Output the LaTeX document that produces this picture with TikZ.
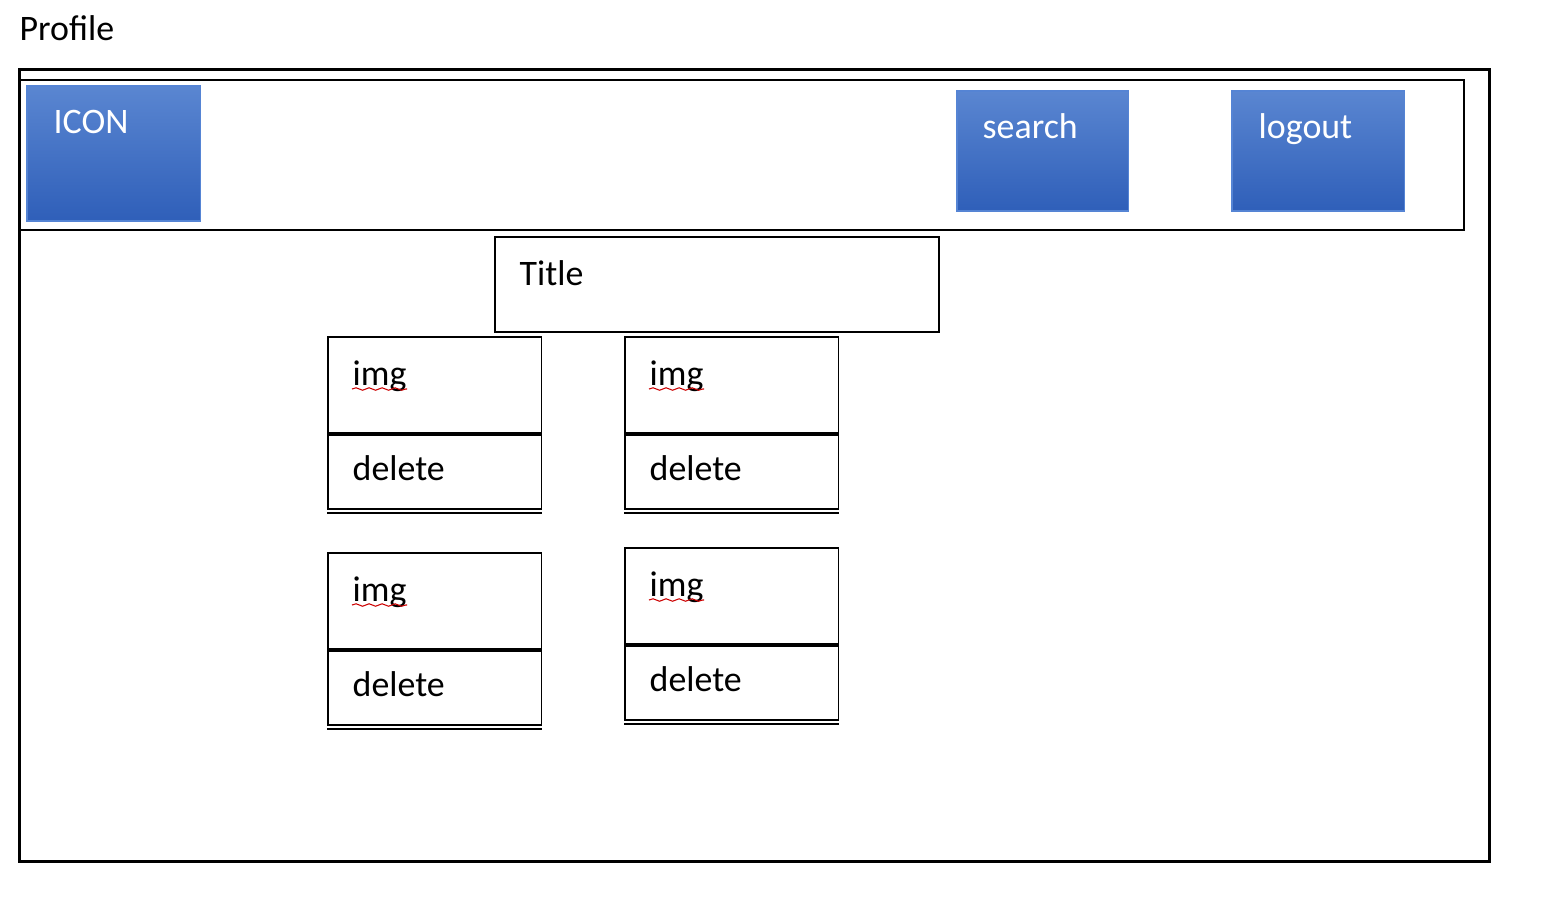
\documentclass[tikz,border=0pt]{standalone}
\usepackage{fontspec}
\setmainfont{Carlito}
\usepackage{xcolor}
\usetikzlibrary{calc,decorations.pathmorphing}

\definecolor{btntop}{HTML}{5A86D1}
\definecolor{btnbot}{HTML}{2F5FB9}
\definecolor{btnedge}{HTML}{5584D4}

\tikzset{
  frame/.style={draw, line width=0.85pt, anchor=north west, inner sep=0pt},
  bar/.style={draw, line width=0.55pt, anchor=north west, inner sep=0pt},
  btn/.style={draw=btnedge, top color=btntop, bottom color=btnbot, line width=0.5pt, anchor=north west, inner sep=0pt},
  cell/.style={draw, line width=0.5pt, anchor=north west, inner sep=0pt, minimum width=2.135cm},
  lbl/.style={anchor=base west, inner sep=0pt, font=\fontsize{10.2}{12}\selectfont},
  wlbl/.style={lbl, text=white},
  spell/.style={draw=red!80!black, line width=0.3pt, decorate, decoration={snake, amplitude=0.35pt, segment length=1.3mm}}
}

\begin{document}
\begin{tikzpicture}[x=0.01cm, y=-0.01cm]
\useasboundingbox (0,0) rectangle (1544,917);
% Page title
\node[lbl] (caption) at (19,40) {Profile};

% Frames
\node[frame, minimum width=14.69cm, minimum height=7.92cm] (page) at (18,68) {};
\node[bar, minimum width=14.43cm, minimum height=1.50cm] (header) at (19,79) {};

% Header buttons
\node[btn, minimum width=1.735cm, minimum height=1.35cm] (icon) at (26,85) {};
\node[btn, minimum width=1.715cm, minimum height=1.20cm] (search) at (956,90) {};
\node[btn, minimum width=1.725cm, minimum height=1.20cm] (logout) at (1231,90) {};
\node[wlbl] (icontxt) at ($(icon.north west)+(27,48)$) {ICON};
\node[wlbl] (searchtxt) at ($(search.north west)+(26,48)$) {search};
\node[wlbl] (logouttxt) at ($(logout.north west)+(27,48)$) {logout};

% Title
\node[bar, minimum width=4.435cm, minimum height=0.95cm] (title) at (494,236) {};
\node[lbl] (titletxt) at ($(title.north west)+(25,49)$) {Title};

% Image cards
\foreach \n/\x/\y in {1/327/336, 2/624/336, 3/327/552, 4/624/547} {
  \node[cell, minimum height=0.96cm] (img\n) at (\x,\y) {};
  \node[cell, minimum height=0.74cm] (del\n) at (img\n.south west) {};
  \draw[line width=0.5pt] ($(del\n.south west)+(0,3.5)$) -- ($(del\n.south east)+(0,3.5)$);
  \node[lbl] (imgtxt\n) at ($(img\n.north west)+(25,49)$) {img};
  \node[lbl] (deltxt\n) at ($(del\n.north west)+(25,47)$) {delete};
  \draw[spell] ($(img\n.north west)+(25,53)$) -- ($(img\n.north west)+(80,53)$);
}
\end{tikzpicture}
\end{document}
